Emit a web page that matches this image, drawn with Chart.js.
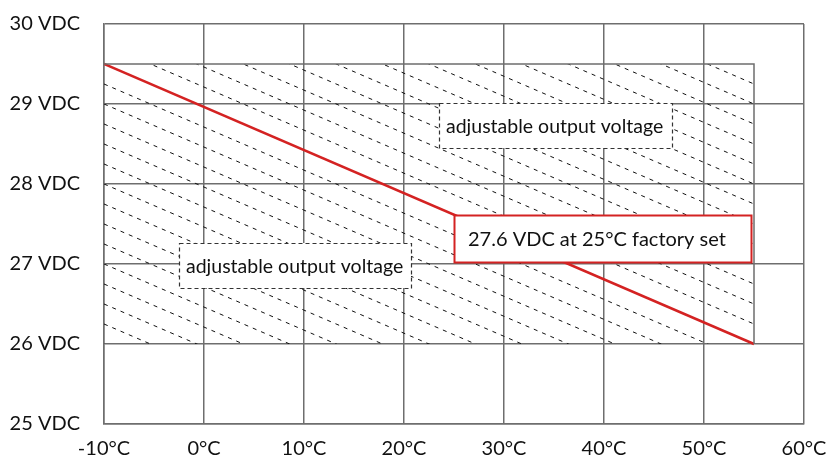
<!DOCTYPE html>
<html>
<head>
<meta charset="utf-8">
<script src="https://cdn.jsdelivr.net/npm/chart.js@4.4.1/dist/chart.umd.min.js"></script>
<style>
  html,body{margin:0;padding:0;background:#fff;}
  #wrap{width:828px;height:457px;}
</style>
</head>
<body>
<div id="wrap"><canvas id="chart" width="828" height="457"></canvas></div>
<script>
// values
const tempTicks  = [-10, 0, 10, 20, 30, 40, 50, 60];
const voltTicks  = [25, 26, 27, 28, 29, 30];
const lineTemps  = [-10, 55];          // factory set line
const lineVolts  = [29.5, 26];
const bandTemps  = [-10, 55, 55];      // adjustable range outline
const bandVolts  = [29.5, 29.5, 26];
const bandBottom = 26;
const hatchStep  = 0.25;               // volts between hatch lines
const noteTexts  = ["adjustable output voltage", "adjustable output voltage", "27.6 VDC at 25°C factory set"];
const noteTemps  = [35.15, 9.1, 39.85];
const noteVolts  = [28.73, 26.98, 27.325];

const FONT = "Lato, 'Noto Sans', sans-serif";
const GRID = "#6e6e6e";
const RED  = "#d42222";

const pts = (xs, ys) => xs.map((x,i)=>({x, y: ys[i]}));
const noPad = s => { s.paddingTop = s.paddingBottom = s.paddingLeft = s.paddingRight = 0; };

const hatch = {
  id: "hatch",
  beforeDatasetsDraw(chart){
    const {ctx, scales:{x, y}} = chart;
    const l = x.getPixelForValue(bandTemps[0]), r = x.getPixelForValue(bandTemps[1]);
    const t = y.getPixelForValue(bandVolts[0]), b = y.getPixelForValue(bandBottom);
    ctx.save();
    ctx.beginPath(); ctx.rect(l, t, r-l, b-t); ctx.clip();
    ctx.setLineDash([4,5]);
    ctx.strokeStyle = "#111"; ctx.lineWidth = 1;
    const n = Math.round((lineVolts[0]-lineVolts[1])/hatchStep);
    for(let k=-n; k<=n; k++){
      if(k===0) continue;
      const off = k*hatchStep;
      ctx.beginPath();
      ctx.moveTo(x.getPixelForValue(lineTemps[0]), y.getPixelForValue(lineVolts[0]+off));
      ctx.lineTo(x.getPixelForValue(lineTemps[1]), y.getPixelForValue(lineVolts[1]+off));
      ctx.stroke();
    }
    ctx.restore();
  }
};

// note boxes: [width, height, dashed?, padLeft, fontSize]
const boxStyle = [[233,45,true,7,19.5],[232,45,true,7,19.5],[297,47,false,14,20]];

const notes = {
  id: "notes",
  afterDatasetsDraw(chart){
    const {ctx, scales:{x, y}} = chart;
    ctx.save();
    noteTexts.forEach((txt,i)=>{
      const [w,h,dashed,pad,fs] = boxStyle[i];
      const cx = x.getPixelForValue(noteTemps[i]), cy = y.getPixelForValue(noteVolts[i]);
      const l = Math.round(cx - w/2), t = Math.round(cy - h/2);
      ctx.fillStyle = "#fff";
      ctx.fillRect(l, t, w, h);
      if(dashed){
        ctx.setLineDash([4,3]); ctx.strokeStyle = "#333"; ctx.lineWidth = 1.2;
      } else {
        ctx.setLineDash([]); ctx.strokeStyle = RED; ctx.lineWidth = 2;
      }
      ctx.strokeRect(l+0.5, t+0.5, w, h);
      ctx.fillStyle = "#111";
      ctx.font = fs + "px " + FONT;
      ctx.textBaseline = "middle";
      ctx.fillText(txt, l+pad, t+h/2+1);
    });
    ctx.restore();
  }
};

new Chart(document.getElementById("chart"), {
  type: "line",
  data: {
    datasets: [
      { data: pts(bandTemps, bandVolts), borderColor: GRID, borderWidth: 1.5, pointRadius: 0, fill: false, tension: 0 },
      { data: pts(lineTemps, lineVolts), borderColor: RED, borderWidth: 2.5, pointRadius: 0, fill: false, tension: 0 }
    ]
  },
  options: {
    responsive: false,
    animation: false,
    devicePixelRatio: 1,
    layout: { padding: { top: 24, right: 24, left: 0, bottom: 0 } },
    plugins: { legend: { display: false }, tooltip: { enabled: false } },
    scales: {
      x: {
        type: "linear", min: tempTicks[0], max: tempTicks[tempTicks.length-1],
        afterBuildTicks: s => { s.ticks = tempTicks.map(v=>({value:v})); },
        afterFit: s => { s.height = 33; noPad(s); },
        grid: { color: GRID, lineWidth: 1.5, drawTicks: false },
        border: { color: GRID, width: 1.5 },
        ticks: { padding: 13, color: "#111", font: { family: FONT, size: 20 }, maxRotation: 0, callback: v => v + "°C" }
      },
      y: {
        type: "linear", min: voltTicks[0], max: voltTicks[voltTicks.length-1],
        afterBuildTicks: s => { s.ticks = voltTicks.map(v=>({value:v})); },
        afterFit: s => { s.width = 104; noPad(s); },
        grid: { color: GRID, lineWidth: 1.5, drawTicks: false },
        border: { color: GRID, width: 1.5 },
        ticks: { padding: 24, color: "#111", font: { family: FONT, size: 20 }, callback: v => v + " VDC" }
      }
    }
  },
  plugins: [hatch, notes]
});
</script>
</body>
</html>
